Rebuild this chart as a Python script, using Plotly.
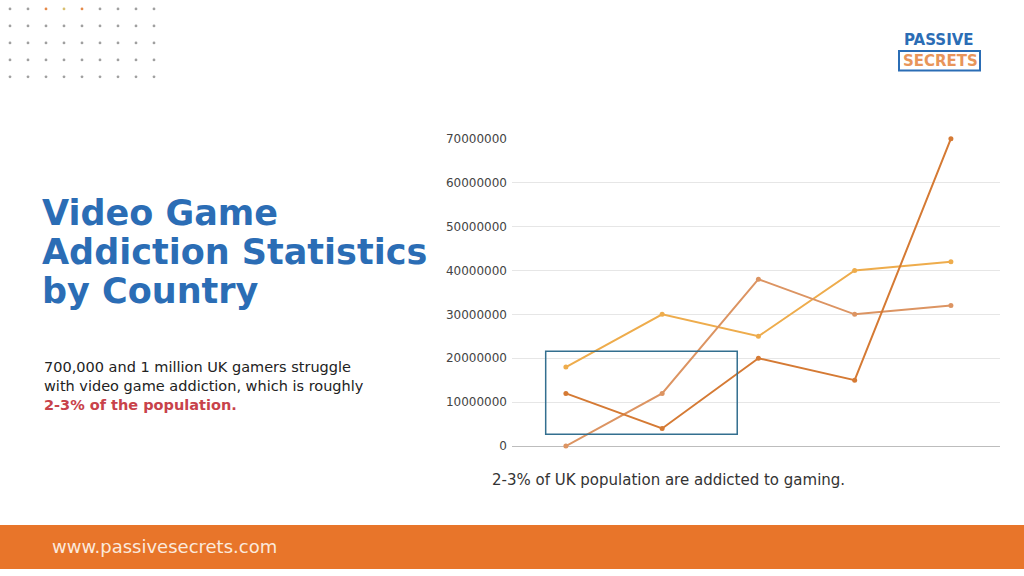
import plotly.graph_objects as go

W, H = 1024, 576

# chart data
points = ["1", "2", "3", "4", "5"]
series_a = [18000000, 30000000, 25000000, 40000000, 42000000]
series_b = [0, 12000000, 38000000, 30000000, 32000000]
series_c = [12000000, 4000000, 20000000, 15000000, 70000000]
y_ticks = [0, 10000000, 20000000, 30000000, 40000000, 50000000, 60000000, 70000000]

title_lines = ["Video Game", "Addiction Statistics", "by Country"]
body_lines = ["700,000 and 1 million UK gamers struggle",
              "with video game addiction, which is roughly"]
body_bold = "2-3% of the population."
caption = "2-3% of UK population are addicted to gaming."
footer_text = "www.passivesecrets.com"

BLUE = "#2b6db5"
ORANGE = "#e8752a"
FONT = "DejaVu Sans"


def px(x):
    return x / W


def py(y):
    return 1 - y / H


fig = go.Figure()

colors = ["#eeac4c", "#dc9462", "#d57a34"]
for vals, col in zip([series_a, series_b, series_c], colors):
    fig.add_trace(go.Scatter(
        x=list(range(len(points))), y=vals,
        mode="lines+markers",
        line=dict(color=col, width=2),
        marker=dict(color=col, size=5),
        cliponaxis=False,
        showlegend=False,
        hoverinfo="skip"))

shapes = []
annotations = []

# dotted decoration top-left
for r in range(5):
    for c in range(9):
        col = "#a0a0a0"
        if r == 0 and c in (2, 4):
            col = "#e58a4a"
        elif r == 0 and c == 3:
            col = "#d8c070"
        x0, y0 = 10 + 18 * c, 2 + 17.4 * r
        shapes.append(dict(type="circle", xref="paper", yref="paper",
                           x0=px(x0 - 1.4), x1=px(x0 + 1.4),
                           y0=py(y0 - 1.4), y1=py(y0 + 1.4),
                           fillcolor=col, line=dict(width=0)))

# footer band
shapes.append(dict(type="rect", xref="paper", yref="paper",
                   x0=0, x1=1, y0=0, y1=py(531),
                   fillcolor=ORANGE, line=dict(width=0), layer="below"))

# highlight box around first two points
shapes.append(dict(type="rect", xref="x", yref="y",
                   x0=-0.21, x1=1.78, y0=2700000, y1=21600000,
                   line=dict(color="#336f8f", width=1.5)))

# logo box
shapes.append(dict(type="rect", xref="paper", yref="paper",
                   x0=px(899), x1=px(980), y0=py(65), y1=py(45),
                   line=dict(color=BLUE, width=2)))

for i, t in enumerate(title_lines):
    annotations.append(dict(text="<b>%s</b>" % t, x=px(40), y=py(211 + 40 * i),
                            xanchor="left", yanchor="middle",
                            font=dict(family=FONT, size=35, color=BLUE)))

# intro paragraph, last line bold red
body_text = "<br>".join(body_lines) + \
    "<br><b><span style='color:#c8424a'>%s</span></b>" % body_bold
annotations.append(dict(text=body_text, x=px(42), y=py(388),
                        xanchor="left", yanchor="middle", align="left",
                        font=dict(family=FONT, size=14.5, color="#222222")))

annotations.append(dict(text=caption, x=px(490), y=py(485),
                        xanchor="left", yanchor="middle",
                        font=dict(family=FONT, size=15, color="#333333")))

annotations.append(dict(text=footer_text, x=px(50), y=py(553),
                        xanchor="left", yanchor="middle",
                        font=dict(family=FONT, size=18, color="#fbe9dc")))

annotations.append(dict(text="<b>PASSIVE</b>", x=px(939), y=py(34),
                        xanchor="center", yanchor="middle",
                        font=dict(family=FONT, size=15, color=BLUE)))
annotations.append(dict(text="<b>SECRETS</b>", x=px(940), y=py(55),
                        xanchor="center", yanchor="middle",
                        font=dict(family=FONT, size=15, color="#e8955a")))

for a in annotations:
    a.update(xref="paper", yref="paper", showarrow=False)

fig.update_layout(
    width=W, height=H,
    margin=dict(l=0, r=0, t=0, b=0),
    paper_bgcolor="white",
    plot_bgcolor="white",
    shapes=shapes,
    annotations=annotations,
    xaxis=dict(domain=[px(512), px(1000)], range=[-0.56, 4.51],
               showgrid=False, zeroline=False, showticklabels=False,
               fixedrange=True),
    yaxis=dict(domain=[py(450), py(135)], range=[0, 70000000],
               tickvals=y_ticks, ticktext=[str(v) for v in y_ticks],
               showgrid=True, gridcolor="#e6e6e6", gridwidth=1,
               zeroline=True, zerolinecolor="#bdbdbd", zerolinewidth=1,
               tickfont=dict(family=FONT, size=12, color="#444444"),
               ticklabelstandoff=4, fixedrange=True),
)

fig.write_html("out.html",
               config={"displayModeBar": False},
               post_script="document.body.style.margin='0px';"
                           "document.body.style.overflow='hidden';")
